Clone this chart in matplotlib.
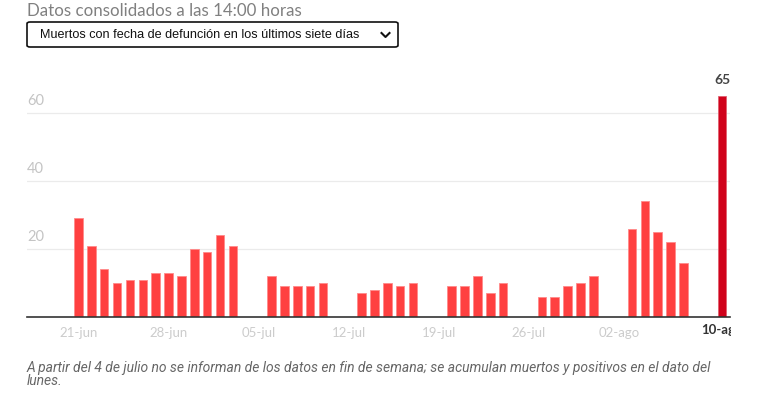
import matplotlib
matplotlib.use("Agg")
import matplotlib.pyplot as plt
import matplotlib.dates as mdates
from matplotlib.patches import FancyBboxPatch
from matplotlib.transforms import Bbox
import datetime as dt

# ---- data ----
dates = ["2020-06-21", "2020-06-22", "2020-06-23", "2020-06-24", "2020-06-25", "2020-06-26",
         "2020-06-27", "2020-06-28", "2020-06-29", "2020-06-30", "2020-07-01", "2020-07-02",
         "2020-07-03", "2020-07-06", "2020-07-07", "2020-07-08", "2020-07-09", "2020-07-10",
         "2020-07-13", "2020-07-14", "2020-07-15", "2020-07-16", "2020-07-17",
         "2020-07-20", "2020-07-21", "2020-07-22", "2020-07-23", "2020-07-24",
         "2020-07-27", "2020-07-28", "2020-07-29", "2020-07-30", "2020-07-31",
         "2020-08-03", "2020-08-04", "2020-08-05", "2020-08-06", "2020-08-07",
         "2020-08-10"]
deaths = [29, 21, 14, 10, 11, 11, 13, 13, 12, 20, 19, 24, 21,
          12, 9, 9, 9, 10,
          7, 8, 10, 9, 10,
          9, 9, 12, 7, 10,
          6, 6, 9, 10, 12,
          26, 34, 25, 22, 16,
          65]
tick_dates = ["2020-06-21", "2020-06-28", "2020-07-05", "2020-07-12", "2020-07-19",
              "2020-07-26", "2020-08-02", "2020-08-10"]
tick_labels = ["21-jun", "28-jun", "05-jul", "12-jul", "19-jul", "26-jul", "02-ago", "10-ago"]
y_ticks = [20, 40, 60]

title = "Datos consolidados a las 14:00 horas"
dropdown = "Muertos con fecha de defunción en los últimos siete días"
note_lines = ["A partir del 4 de julio no se informan de los datos en fin de semana; se acumulan muertos y positivos en el dato del",
              "lunes."]

# ---- figure ----
W, H = 776, 395
fig = plt.figure(figsize=(W / 100, H / 100), dpi=100)
fig.patch.set_facecolor("white")

def fx(px):
    return px / W

def fy(py):
    return 1 - py / H

ax_left, ax_right, ax_bottom, ax_top = 27, 730, 317, 79
ax = fig.add_axes([fx(ax_left), fy(ax_bottom), fx(ax_right - ax_left), (ax_bottom - ax_top) / H])

d = [mdates.date2num(dt.datetime.strptime(s, "%Y-%m-%d")) for s in dates]
colors = ["#ff4040"] * (len(d) - 1) + ["#d0021b"]
edges = ["#ff8a8a"] * (len(d) - 1) + ["#e06070"]
ax.bar(d, deaths, width=0.66, color=colors, edgecolor=edges, linewidth=0.6, zorder=3)

start = mdates.date2num(dt.datetime(2020, 6, 17))
end = mdates.date2num(dt.datetime(2020, 8, 10)) + 0.62
ax.set_xlim(start, end)
ax.set_ylim(0, 70)

for sp in ["top", "right", "left"]:
    ax.spines[sp].set_visible(False)
ax.spines["bottom"].set_color("#333333")
ax.spines["bottom"].set_linewidth(1.2)
ax.spines["bottom"].set_zorder(4)

for yv in y_ticks:
    ax.axhline(yv, color="#ebebeb", linewidth=0.9, zorder=1)
    ax.text(0, yv + 1.6, str(yv), transform=ax.get_yaxis_transform(), ha="left", va="bottom",
            fontsize=10.5, color="#c4c4c4", family="Lato")
ax.set_yticks([])

td = [mdates.date2num(dt.datetime.strptime(s, "%Y-%m-%d")) for s in tick_dates]
ax.set_xticks(td[:-1])
ax.set_xticklabels(tick_labels[:-1], fontsize=9.5, color="#cccccc", family="Lato")
ax.tick_params(axis="x", length=0, pad=7)

# last (highlighted) tick label, clipped at axes right edge
t_last = ax.text(td[-1], -2.2, tick_labels[-1], ha="center", va="top", fontsize=9.5,
                 fontweight="bold", color="#333333", family="Lato")
clip = Bbox.from_extents(0, 0, ax_right + 1, H)
t_last.set_clip_box(clip)
t_last.set_clip_on(True)

# value label over last bar
ax.text(d[-1], deaths[-1] + 3.0, str(deaths[-1]), ha="center", va="bottom", fontsize=10,
        fontweight="bold", color="#444444", family="Lato")

# title
fig.text(fx(27), fy(15.5), title, ha="left", va="baseline", fontsize=12.2, color="#808080",
         family="Lato")

# dropdown
box = FancyBboxPatch((fx(27), fy(47)), fx(398 - 27), (47 - 22) / H,
                     boxstyle="round,pad=0,rounding_size=0.004", transform=fig.transFigure,
                     facecolor="white", edgecolor="#111111", linewidth=1.2)
fig.patches.append(box)
fig.text(fx(40), fy(35), dropdown, ha="left", va="center", fontsize=9.05, color="#111111",
         family="Liberation Sans")
fig.lines.append(plt.Line2D([fx(381.5), fx(385.5), fx(389.5)], [fy(33), fy(37), fy(33)],
                            transform=fig.transFigure, color="#111111", linewidth=1.5))

# footnote
for i, line in enumerate(note_lines):
    fig.text(fx(27), fy(372 + 13 * i), line, ha="left", va="baseline", fontsize=10,
             color="#666666", family="Roboto", style="italic")

fig.savefig("out.png", dpi=100, facecolor="white")
